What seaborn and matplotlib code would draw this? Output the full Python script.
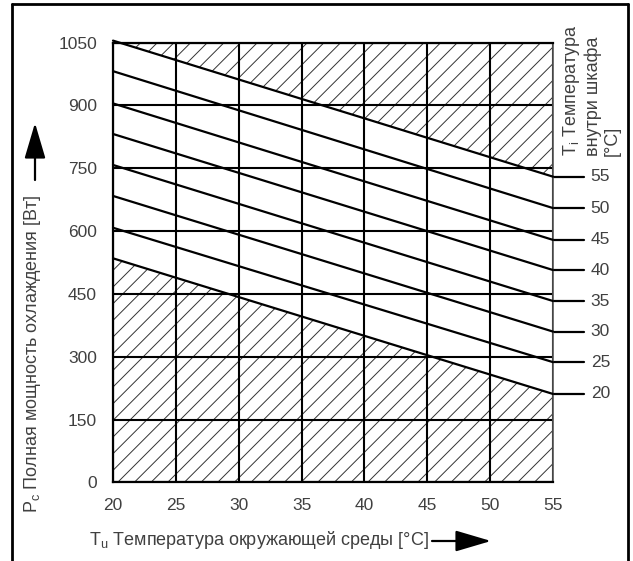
import numpy as np
import pandas as pd
import matplotlib
matplotlib.use("Agg")
import matplotlib.pyplot as plt
from matplotlib.lines import Line2D
import seaborn as sns

# ambient temperature range (x)
tu = [20, 55]
# inside cabinet temperature curves and their end values (W)
ti = [20, 25, 30, 35, 40, 45, 50, 55]
p_at_20 = [535, 608, 684, 758, 832, 905, 982, 1055]
p_at_55 = [211, 287, 360, 433, 507, 579, 655, 730]

xticks = [20, 25, 30, 35, 40, 45, 50, 55]
yticks = [0, 150, 300, 450, 600, 750, 900, 1050]

rows = []
for t, a, b in zip(ti, p_at_20, p_at_55):
    rows.append({"Tu": tu[0], "Pc": a, "Ti": t})
    rows.append({"Tu": tu[1], "Pc": b, "Ti": t})
df = pd.DataFrame(rows)

sns.set_style("white")
plt.rcParams["font.family"] = ["Liberation Sans", "DejaVu Sans"]
plt.rcParams["mathtext.default"] = "regular"
plt.rcParams["hatch.linewidth"] = 0.7
plt.rcParams["hatch.color"] = "#333333"

W, H = 633, 561
fig = plt.figure(figsize=(W / 100, H / 100), dpi=100)
ax = fig.add_axes([113 / W, 1 - 482.3 / H, (553 - 113) / W, (482.3 - 42.7) / H])

txt = "#404040"
fs_tick = 12.5
fs_lab = 13

# hatched areas: above the 55 line and below the 20 line
x_fill = np.array(tu)
top_line = np.array([p_at_20[-1], p_at_55[-1]])
bot_line = np.array([p_at_20[0], p_at_55[0]])
ax.fill_between(x_fill, top_line, yticks[-1], facecolor="none", hatch="//",
                edgecolor="#333333", linewidth=0)
ax.fill_between(x_fill, 0, bot_line, facecolor="none", hatch="//",
                edgecolor="#333333", linewidth=0)

# grid
for xv in xticks:
    ax.axvline(xv, color="black", lw=1.5, zorder=1)
for yv in yticks:
    ax.axhline(yv, color="black", lw=1.5, zorder=1)

sns.lineplot(data=df, x="Tu", y="Pc", hue="Ti", units="Ti", estimator=None,
             palette=["black"] * len(ti), lw=1.6, legend=False, ax=ax,
             zorder=3, clip_on=False)

ax.set_xlim(tu[0], tu[1])
ax.set_ylim(yticks[0], yticks[-1])
ax.set_xticks(xticks)
ax.set_yticks(yticks)
ax.tick_params(length=0, labelsize=fs_tick, labelcolor=txt)
ax.tick_params(axis="x", pad=11)
ax.tick_params(axis="y", pad=11.5)
ax.set_xlabel("")
ax.set_ylabel("")
for s in ["left", "bottom", "top"]:
    ax.spines[s].set_color("black")
    ax.spines[s].set_linewidth(1.6)
ax.spines["right"].set_color("#555555")
ax.spines["right"].set_linewidth(1.2)

# right-side Ti labels with leader lines
for t, b in zip(ti, p_at_55):
    ax.plot([55, 57.5], [b, b], color="black", lw=1.6, clip_on=False)
    ax.text(58.0, b, str(t), ha="left", va="center", fontsize=fs_tick, color=txt)

fig.text(591 / W, 1 - 156 / H, "T$_i$ Температура\nвнутри шкафа\n[°C]",
         rotation=90, ha="center", va="bottom", ma="left", fontsize=fs_lab,
         color=txt, linespacing=1.15)

# axis titles with arrows
fig.text(33 / W, 1 - 513 / H, "P$_c$ Полная мощность охлаждения [Вт]",
         rotation=90, ha="center", va="bottom", fontsize=fs_lab, color=txt)
ax.annotate("", xy=(35 / W, 1 - 123 / H), xytext=(35 / W, 1 - 180 / H),
            xycoords="figure fraction", textcoords="figure fraction",
            arrowprops=dict(arrowstyle="-|>,head_length=2.2,head_width=0.65",
                            mutation_scale=10, lw=1.6, color="black",
                            shrinkA=0, shrinkB=0))

fig.text(89 / W, 1 - 540 / H, "T$_u$ Температура окружающей среды [°C]",
         ha="left", va="center", fontsize=fs_lab, color=txt)
ax.annotate("", xy=(491 / W, 1 - 541 / H), xytext=(432 / W, 1 - 541 / H),
            xycoords="figure fraction", textcoords="figure fraction",
            arrowprops=dict(arrowstyle="-|>,head_length=2.2,head_width=0.65",
                            mutation_scale=10, lw=1.6, color="black",
                            shrinkA=0, shrinkB=0))

# outer frame
fx0, fx1, fy1 = 12 / W, 628 / W, 1 - 4 / H
for xs, ys in [([fx0, fx0], [0, fy1]), ([fx0, fx1], [fy1, fy1]), ([fx1, fx1], [fy1, 0])]:
    fig.add_artist(Line2D(xs, ys, color="black", lw=2, transform=fig.transFigure))

fig.savefig("out.png", dpi=100)
